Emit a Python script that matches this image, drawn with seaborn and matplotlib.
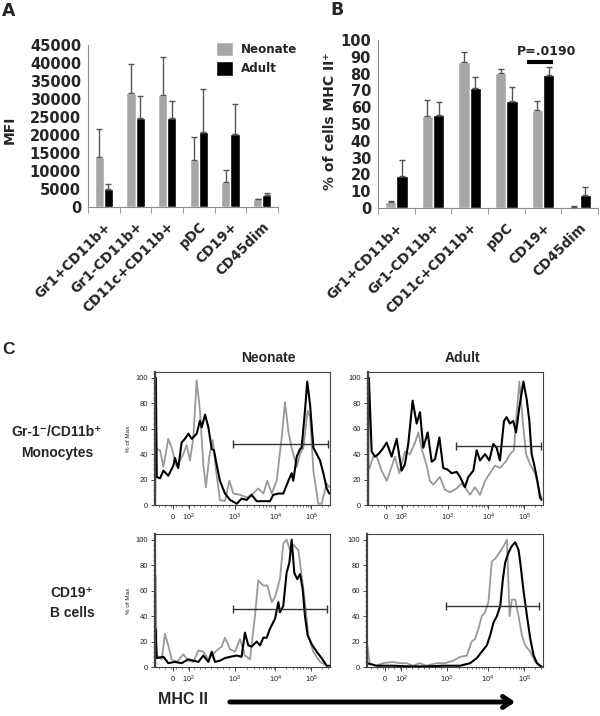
import numpy as np
import pandas as pd
import matplotlib
matplotlib.use('Agg')
import matplotlib.pyplot as plt
import seaborn as sns
from matplotlib.patches import FancyArrowPatch

# ---- panel A / B data ----
cells = ['Gr1+CD11b+', 'Gr1-CD11b+', 'CD11c+CD11b+', 'pDC', 'CD19+', 'CD45dim']
groups = ['Neonate', 'Adult']

mfi_neonate = [13900, 31700, 31200, 13000, 6900, 2200]
mfi_neonate_err = [7900, 7900, 10400, 6400, 3500, 150]
mfi_adult = [5100, 24700, 24800, 20800, 20400, 3200]
mfi_adult_err = [1400, 6100, 4600, 12000, 8100, 700]

pct_neonate = [3.4, 55.0, 87.0, 80.4, 58.6, 0.7]
pct_neonate_err = [0.6, 9.2, 6.0, 2.6, 5.0, 0.4]
pct_adult = [19.2, 55.4, 71.5, 63.8, 79.4, 7.7]
pct_adult_err = [9.5, 7.6, 6.5, 8.3, 4.6, 5.0]

# ---- panel C data (channel 0-1000 on the biexponential axis, % of max) ----
tl_gray_x = [0, 10, 29, 48, 76, 95, 124, 162, 181, 200, 219, 238, 257, 276, 291, 310, 330, 349, 371, 400,
             425, 448, 486, 524, 552, 590, 619, 642, 667, 695, 724, 743, 762, 781, 810, 829, 848, 872, 886,
             905, 933, 952, 981, 996]
tl_gray_y = [44, 44, 43, 30, 52, 45, 30, 40, 47, 35, 53, 98, 74, 32, 14, 38, 51, 27, 4, 3,
             19, 9, 8, 6, 8, 13, 9, 19, 9, 19, 53, 81, 58, 45, 30, 40, 45, 74, 69,
             27, 1, 1, 17, 14]
tl_black_x = [0, 2, 5, 10, 29, 48, 76, 105, 114, 133, 152, 171, 190, 210, 238, 257, 267, 286, 305, 324,
              337, 352, 371, 400, 429, 467, 495, 524, 552, 581, 619, 657, 676, 705, 733, 762, 781, 790,
              810, 829, 838, 857, 870, 886, 905, 924, 943, 962, 981, 996]
tl_black_y = [0, 100, 100, 22, 21, 27, 23, 31, 37, 29, 49, 52, 56, 52, 56, 66, 61, 71, 61, 44,
              43, 32, 19, 9, 4, 1, 5, 4, 8, 3, 3, 3, 8, 9, 9, 19, 25, 19,
              38, 44, 45, 74, 97, 79, 45, 40, 35, 25, 13, 9]

tr_gray_x = [0, 8, 30, 50, 78, 107, 135, 154, 179, 211, 240, 269, 288, 307, 335, 354, 373, 392, 411, 440,
             469, 507, 535, 564, 583, 611, 640, 669, 697, 726, 754, 792, 811, 834, 850, 865, 884, 903,
             926, 954, 973, 992]
tr_gray_y = [29, 29, 38, 38, 27, 19, 30, 38, 25, 42, 40, 49, 57, 44, 31, 19, 16, 19, 22, 12,
             10, 13, 17, 12, 8, 14, 8, 19, 25, 31, 29, 35, 40, 43, 73, 97, 66, 40,
             32, 25, 14, 5]
tr_black_x = [0, 2, 5, 21, 40, 59, 78, 107, 135, 164, 192, 211, 230, 255, 278, 297, 316, 341, 364, 383,
              408, 430, 453, 478, 507, 526, 554, 573, 602, 621, 640, 669, 693, 716, 735, 754, 777, 792,
              811, 830, 846, 865, 888, 907, 922, 935, 949, 968, 983, 992]
tr_black_y = [0, 100, 100, 42, 38, 40, 43, 49, 38, 52, 27, 32, 48, 82, 64, 73, 45, 57, 34, 36,
              53, 29, 28, 25, 26, 22, 14, 22, 27, 43, 35, 40, 35, 48, 45, 35, 66, 69,
              64, 66, 57, 77, 97, 83, 66, 40, 32, 19, 6, 4]

bl_gray_x = [0, 2, 10, 38, 57, 76, 95, 124, 162, 190, 219, 248, 276, 305, 324, 352, 381, 400, 429, 457,
             486, 514, 543, 571, 590, 619, 642, 667, 686, 714, 733, 752, 771, 790, 819, 838, 857, 876,
             905, 943, 981]
bl_gray_y = [0, 72, 9, 6, 26, 17, 6, 4, 10, 5, 4, 13, 12, 6, 9, 13, 16, 23, 14, 12,
             22, 9, 6, 40, 68, 64, 64, 51, 55, 69, 97, 100, 92, 96, 92, 72, 51, 25,
             12, 4, 1]
bl_black_x = [0, 2, 10, 48, 76, 114, 152, 190, 219, 248, 276, 305, 324, 343, 371, 400, 429, 467, 495, 514,
              533, 552, 581, 600, 619, 638, 657, 686, 705, 714, 733, 752, 768, 781, 796, 813, 829, 844,
              857, 872, 895, 924, 952, 981, 996]
bl_black_y = [0, 30, 7, 8, 3, 4, 3, 6, 5, 4, 9, 4, 12, 4, 5, 7, 8, 9, 8, 27,
              17, 16, 20, 17, 23, 23, 30, 38, 51, 43, 48, 74, 82, 100, 74, 69, 73, 61,
              40, 25, 18, 12, 7, 1, 1]

br_gray_x = [0, 2, 15, 53, 91, 148, 186, 224, 262, 300, 338, 395, 443, 490, 529, 567, 595, 614, 633, 652,
             671, 690, 709, 728, 753, 776, 795, 810, 823, 842, 861, 880, 899, 928, 956, 985]
br_gray_y = [0, 17, 3, 1, 3, 4, 3, 3, 1, 3, 1, 3, 3, 5, 8, 9, 20, 22, 30, 40,
             43, 51, 83, 85, 90, 95, 100, 40, 53, 53, 40, 25, 17, 12, 4, 0]
br_black_x = [0, 53, 148, 243, 338, 433, 529, 586, 624, 652, 681, 700, 719, 738, 757, 772, 785, 804, 823, 842,
              861, 871, 890, 909, 928, 947, 966, 994]
br_black_y = [3, 1, 1, 0.5, 0.5, 1, 1, 3, 7, 12, 17, 25, 35, 40, 48, 69, 82, 90, 95, 98,
              92, 82, 59, 40, 22, 9, 3, 0]

hist_tick_pos = [102, 194, 455, 688, 893]
hist_tick_labels = [r'$\mathregular{0}$', r'$\mathregular{10^2}$', r'$\mathregular{10^3}$',
                    r'$\mathregular{10^4}$', r'$\mathregular{10^5}$']
# gate: start channel, end channel, height
gates = {'tl': (446, 990, 47.6), 'tr': (500, 987, 46.6), 'bl': (446, 980, 45.7), 'br': (450, 980, 48)}

GRAY = '#a6a6a6'
W, H = 600, 716
BOLD = ['DejaVu Sans']
ARIAL = ['Liberation Sans', 'DejaVu Sans']

sns.set_style('white')
plt.rcParams['font.family'] = BOLD

fig = plt.figure(figsize=(6, 7.16), dpi=100)


def px_axes(left, top, right, bottom):
    return fig.add_axes([left / W, 1 - bottom / H, (right - left) / W, (bottom - top) / H])


def ftext(x, y, s, **kw):
    return fig.text(x / W, 1 - y / H, s, **kw)


def bar_panel(ax, neo, neo_err, adu, adu_err, width, ymax, step):
    df = pd.DataFrame({'cell': cells * 2,
                       'group': [groups[0]] * len(cells) + [groups[1]] * len(cells),
                       'value': neo + adu})
    sns.barplot(data=df, x='cell', y='value', hue='group', palette=[GRAY, 'black'],
                width=width, gap=0, errorbar=None, saturation=1, ax=ax, zorder=2)
    for cont, errs in zip(ax.containers, [neo_err, adu_err]):
        xs = [b.get_x() + b.get_width() / 2 for b in cont]
        hs = [b.get_height() for b in cont]
        ax.errorbar(xs, hs, yerr=[np.zeros(len(errs)), errs], fmt='none', ecolor='#555555',
                    elinewidth=1, capsize=2.5, capthick=1, zorder=3)
    ax.set_xlim(-0.5, len(cells) - 0.5)
    ax.set_ylim(0, ymax)
    ax.set_yticks(np.arange(0, ymax + 1, step))
    ax.set_xlabel('')
    ax.set_ylabel('')
    for s in ['top', 'right']:
        ax.spines[s].set_visible(False)
    for s in ['left', 'bottom']:
        ax.spines[s].set_color('#8c8c8c')
        ax.spines[s].set_linewidth(0.8)
    ax.set_xticks(np.arange(-0.5, len(cells)), minor=True)
    ax.tick_params(axis='x', which='minor', length=4, color='#8c8c8c', direction='out', bottom=True)
    ax.tick_params(axis='x', which='major', length=0, pad=9)
    ax.tick_params(axis='y', length=0, pad=5, labelsize=10.5)
    ax.set_xticks(range(len(cells)))
    ax.set_xticklabels(cells, rotation=45, ha='right', va='top', rotation_mode='anchor',
                       fontsize=9.8, fontweight='bold')
    for lab in ax.get_yticklabels():
        lab.set_fontweight('bold')


# ---- panel A ----
axA = px_axes(88, 45, 278, 207)
bar_panel(axA, mfi_neonate, mfi_neonate_err, mfi_adult, mfi_adult_err, 0.58, 45000, 5000)
axA.legend(frameon=False, loc='upper left', bbox_to_anchor=((216 - 88) / 190, 1.02),
           handlelength=1.45, handleheight=1.45, handletextpad=0.6, labelspacing=0.45,
           borderpad=0, borderaxespad=0, prop={'weight': 'bold', 'size': 8.6})
ftext(10, 130, 'MFI', rotation=90, ha='center', va='center', fontsize=10, fontweight='bold')
ftext(2, 11, 'A', ha='left', va='center', fontsize=12.5, fontweight='bold')

# ---- panel B ----
axB = px_axes(378, 40, 598, 208)
bar_panel(axB, pct_neonate, pct_neonate_err, pct_adult, pct_adult_err, 0.62, 100, 10)
axB.get_legend().remove()
axB.plot([3.55, 4.27], [87, 87], color='black', lw=3, solid_capstyle='butt')
axB.text(4.1, 93, 'P=.0190', ha='center', va='center', fontsize=9, fontweight='bold')
ftext(330, 121, '% of cells MHC II⁺', rotation=90, ha='center', va='center', fontsize=10,
      fontweight='bold')
ftext(330, 10, 'B', ha='left', va='center', fontsize=12.5, fontweight='bold')

# ---- panel C ----
def hist_panel(ax, gx, gy, bx, by, gate, ylab):
    sns.lineplot(x=gx, y=gy, color='#999999', lw=1.3, ax=ax)
    sns.lineplot(x=bx, y=by, color='black', lw=1.5, ax=ax)
    ax.plot([gate[0], gate[1]], [gate[2], gate[2]], color='#333333', lw=1, marker='|',
            markersize=6, markeredgewidth=1)
    ax.set_xlim(0, 1000)
    ax.set_ylim(0, 104.5)
    for s in ax.spines.values():
        s.set_color('#444444')
        s.set_linewidth(0.8)
    ax.spines['left'].set_linewidth(1.6)
    ax.set_yticks(np.arange(0, 101, 20))
    ax.set_yticks(np.arange(0, 101, 4), minor=True)
    ax.set_xticks(hist_tick_pos)
    ax.set_xticklabels(hist_tick_labels, family=ARIAL)
    dec = hist_tick_pos[2:]
    minor = []
    for a, b in zip(dec[:-1], dec[1:]):
        minor += [a + np.log10(k) * (b - a) for k in range(2, 10)]
    minor += [dec[-1] + np.log10(k) * (dec[-1] - dec[-2]) for k in range(2, 4)]
    minor += list(np.linspace(hist_tick_pos[0] - 80, hist_tick_pos[2], 14))
    ax.set_xticks(minor, minor=True)
    ax.tick_params(which='major', direction='out', length=3, width=0.7, color='#444444',
                   labelsize=5.5, pad=2, labelcolor='#222222', left=True, bottom=True)
    ax.tick_params(which='minor', direction='out', length=1.5, width=0.5, color='#444444',
                   left=True, bottom=True)
    for lab in ax.get_yticklabels():
        lab.set_family(ARIAL)
    ax.set_xlabel('')
    ax.set_ylabel(ylab, fontsize=4.5, family=ARIAL, labelpad=3)


axTL = px_axes(155, 372, 330, 505)
hist_panel(axTL, tl_gray_x, tl_gray_y, tl_black_x, tl_black_y, gates['tl'], '% of Max')
axTR = px_axes(368, 372, 543, 505)
hist_panel(axTR, tr_gray_x, tr_gray_y, tr_black_x, tr_black_y, gates['tr'], '')
axBL = px_axes(155, 534, 330, 667)
hist_panel(axBL, bl_gray_x, bl_gray_y, bl_black_x, bl_black_y, gates['bl'], '% of Max')
axBR = px_axes(367, 534, 543, 667)
hist_panel(axBR, br_gray_x, br_gray_y, br_black_x, br_black_y, gates['br'], '')

ftext(2, 350, 'C', ha='left', va='center', fontsize=12.5, fontweight='bold', family=ARIAL)
ftext(268, 358, 'Neonate', ha='center', va='center', fontsize=10, fontweight='bold', family=ARIAL)
ftext(462, 358, 'Adult', ha='center', va='center', fontsize=10, fontweight='bold', family=ARIAL)
ftext(57, 432, 'Gr-1⁻/CD11b⁺', ha='center', va='center', fontsize=10, fontweight='bold', family=ARIAL)
ftext(57, 453, 'Monocytes', ha='center', va='center', fontsize=10, fontweight='bold', family=ARIAL)
ftext(72, 593, 'CD19⁺', ha='center', va='center', fontsize=10, fontweight='bold', family=ARIAL)
ftext(72, 613, 'B cells', ha='center', va='center', fontsize=10, fontweight='bold', family=ARIAL)
ftext(183, 700, 'MHC II', ha='center', va='center', fontsize=11.5, fontweight='bold', family=ARIAL)
fig.add_artist(FancyArrowPatch((227 / W, 1 - 702 / H), (518 / W, 1 - 702 / H),
                               transform=fig.transFigure, arrowstyle='->,head_length=6,head_width=4',
                               mutation_scale=1, lw=3.5, color='black'))

fig.savefig('out.png', dpi=100)
